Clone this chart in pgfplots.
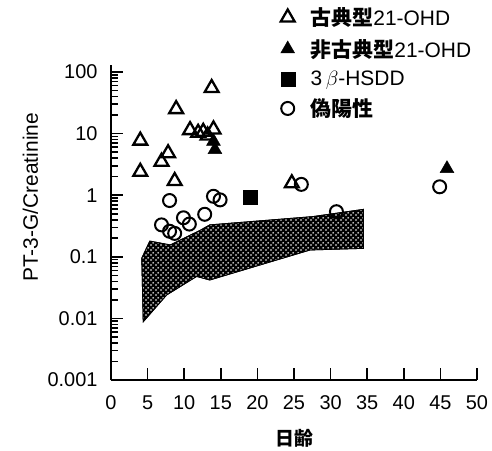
\documentclass[border=0pt]{standalone}
\usepackage{fontspec}
\setmainfont{Liberation Sans}
\newfontfamily\cjk{Noto Sans CJK JP}
\usepackage{pgfplots}
\pgfplotsset{compat=1.18}
\usetikzlibrary{patterns}
\pgfdeclarepatternformonly{mydots}{\pgfqpoint{0bp}{0bp}}{\pgfqpoint{5bp}{5bp}}{\pgfqpoint{5bp}{5bp}}{%
  \pgfpathcircle{\pgfqpoint{1.25bp}{1.25bp}}{1.05bp}%
  \pgfpathcircle{\pgfqpoint{3.75bp}{3.75bp}}{1.05bp}%
  \pgfusepath{fill}}
\begin{document}
\begin{tikzpicture}
\useasboundingbox (-111bp,-71bp) rectangle (381bp,380bp);
\begin{axis}[
  scale only axis, width=366bp, height=315bp,
  xmin=0, xmax=50, ymode=log, ymin=1e-3, ymax=130,
  axis x line=bottom, axis y line=left,
  axis line style={-, line width=2.8bp},
  tick align=inside,
  major tick length=12bp, minor tick length=7bp,
  every tick/.style={line width=1.6bp, black},
  xtick={0,5,...,50},
  ytick={0.001,0.01,0.1,1,10,100},
  yticklabels={0.001,0.01,0.1,1,10,100},
  /pgf/number format/assume math mode=true,
  ticklabel style={font=\fontsize{20}{22}\selectfont},
  xticklabel style={yshift=-12bp},
  yticklabel style={xshift=-10bp},
  xlabel={\cjk\bfseries 日齢},
  xlabel style={font=\fontsize{19}{22}\selectfont, at={(axis description cs:0.5,0)}, anchor=center, yshift=-58bp},
  ylabel={PT-3-G/Creatinine},
  ylabel style={font=\fontsize{21}{24}\selectfont, at={(axis description cs:-0.22,0.58)}, anchor=center},
  clip=false,
  legend style={at={(axis description cs:0.455,1.195)}, anchor=north west, draw=none, fill=none,
    font=\fontsize{21}{24}\selectfont, row sep=8bp, legend cell align=left,
    /tikz/every odd column/.append style={column sep=14bp}},
]
\addplot[fill=black, draw=black, line width=0.8bp, postaction={pattern=mydots, pattern color=white}, forget plot]
  coordinates {(4.2,0.095) (5.3,0.18) (8.1,0.156) (12.2,0.27) (13.5,0.33) (27.6,0.45) (34.5,0.59)
               (34.5,0.137) (27.2,0.129) (13.5,0.042) (11.7,0.048) (7.6,0.024) (4.4,0.0088)} -- cycle;

\addplot[only marks, mark=triangle, mark size=8bp, mark options={line width=2.3bp, black}]
  coordinates {(4,7.7) (4,2.4) (6.9,3.5) (7.8,4.8) (8.7,1.7) (8.9,25) (13.75,55)
               (10.8,11.4) (11.9,10.3) (12.6,10.7) (13.2,9.3) (14.0,11.7) (24.7,1.56)};
\addlegendentry{{\cjk\bfseries 古典型}21-OHD}
\addplot[only marks, mark=triangle*, mark size=8bp, mark options={black, fill=black}]
  coordinates {(14.0,7.5) (14.2,5.5) (45.9,2.7)};
\addlegendentry{{\cjk\bfseries 非古典型}21-OHD}
\addplot[only marks, mark=square*, mark size=7bp, mark options={black, fill=black}]
  coordinates {(19,0.92)};
\addlegendentry{3\,$\beta$-HSDD}
\addplot[only marks, mark=o, mark size=6.5bp, mark options={line width=2bp, black}]
  coordinates {(6.9,0.33) (8.0,0.26) (8.7,0.24) (8.0,0.82) (9.9,0.43) (10.7,0.34) (12.8,0.49)
               (14.0,0.96) (14.9,0.84) (26.0,1.5) (30.8,0.54) (44.9,1.37)};
\addlegendentry{{\cjk\bfseries 偽陽性}}
\end{axis}
\end{tikzpicture}
\end{document}
